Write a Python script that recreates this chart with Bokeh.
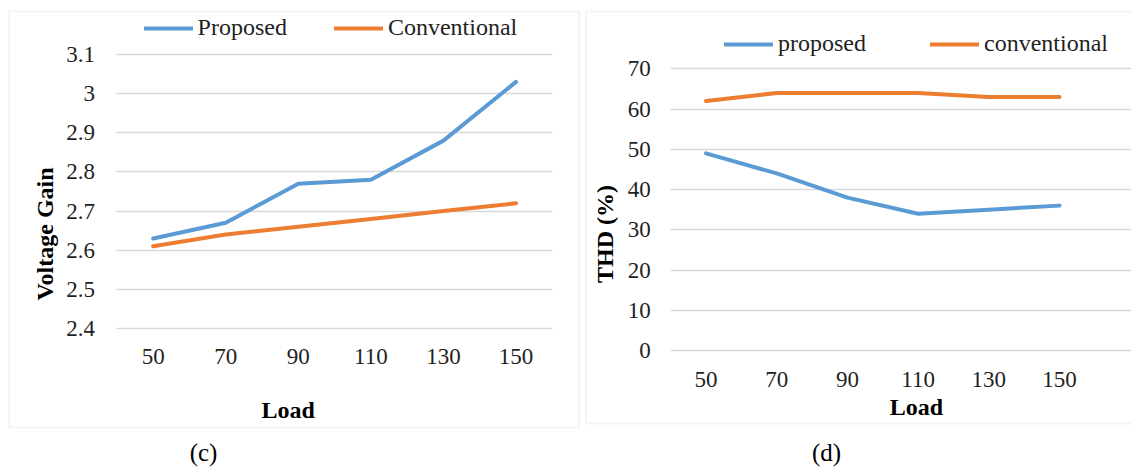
from bokeh.plotting import figure
from bokeh.layouts import row
from bokeh.models import (Legend, LegendItem, Label, BoxAnnotation, FixedTicker,
                          NumeralTickFormatter, Range1d)
from bokeh.embed import file_html
from bokeh.resources import INLINE

# ---- data ----
loads = [50, 70, 90, 110, 130, 150]
gain_proposed = [2.63, 2.67, 2.77, 2.78, 2.88, 3.03]
gain_conventional = [2.61, 2.64, 2.66, 2.68, 2.70, 2.72]
thd_proposed = [49, 44, 38, 34, 35, 36]
thd_conventional = [62, 64, 64, 64, 63, 63]
gain_ticks = [2.4, 2.5, 2.6, 2.7, 2.8, 2.9, 3.0, 3.1]
thd_ticks = [0, 10, 20, 30, 40, 50, 60, 70]

BLUE = "#5B9BD5"
ORANGE = "#ED7D31"
GRID = "#d9d9d9"
BOX = "#dadada"
FONT = "Liberation Serif"
TXT = "#1f1f1f"
H = 467


def make(width, xr, yr, ticks, ylabel, ylab_standoff, ytick_standoff, xtick_standoff,
         x_left, y_bottom, x_right):
    p = figure(width=width, height=H, output_backend="svg", toolbar_location=None,
               x_range=Range1d(*xr), y_range=Range1d(*yr),
               min_border=0, min_border_left=0, min_border_right=0,
               min_border_top=0, min_border_bottom=0)
    p.outline_line_color = None
    p.xgrid.visible = False
    p.ygrid.grid_line_color = GRID
    p.ygrid.grid_line_width = 1.5
    p.ygrid.ticker = FixedTicker(ticks=ticks)
    p.ygrid.cross_bounds = (x_left, x_right)
    p.xaxis.ticker = FixedTicker(ticks=loads)
    p.yaxis.ticker = FixedTicker(ticks=ticks)
    p.yaxis.fixed_location = x_left
    p.xaxis.fixed_location = y_bottom
    for ax in (p.xaxis[0], p.yaxis[0]):
        ax.axis_line_color = None
        ax.major_tick_line_color = None
        ax.minor_tick_line_color = None
        ax.major_tick_in = 0
        ax.major_tick_out = 0
        ax.minor_tick_in = 0
        ax.minor_tick_out = 0
        ax.major_label_text_font = FONT
        ax.major_label_text_font_size = "23px"
        ax.major_label_text_color = TXT
    p.xaxis.major_label_standoff = xtick_standoff
    p.yaxis.major_label_standoff = ytick_standoff
    p.yaxis.axis_label = ylabel
    p.yaxis.axis_label_text_font = FONT
    p.yaxis.axis_label_text_font_style = "bold"
    p.yaxis.axis_label_text_font_size = "24px"
    p.yaxis.axis_label_text_color = "#000000"
    p.yaxis.axis_label_standoff = ylab_standoff
    return p


def legend(p, items, vx, vy, spacing, standoff):
    lg = Legend(items=items, location=(vx, vy), orientation="horizontal",
                glyph_width=49, glyph_height=26, label_height=26,
                label_standoff=standoff, spacing=spacing, padding=0, margin=0,
                border_line_color=None, background_fill_alpha=0,
                label_text_font=FONT, label_text_font_size="24px",
                label_text_color=TXT)
    p.add_layout(lg, "center")


def box(p, l, r, t, b):
    p.add_layout(BoxAnnotation(left=l, right=r, top=t, bottom=b,
                               left_units="canvas", right_units="canvas",
                               top_units="canvas", bottom_units="canvas",
                               fill_alpha=0, line_color=BOX, line_width=2))


def label(p, x, y, text, bold, size):
    p.add_layout(Label(x=x, y=y, x_units="canvas", y_units="canvas", text=text,
                       text_font=FONT, text_font_style="bold" if bold else "normal",
                       text_font_size=size, text_align="center",
                       text_baseline="middle", text_color="#000000"))


# ---- left: voltage gain ----
p1 = make(581, (7.92, 168.05), (2.0449, 3.238), gain_ticks, "Voltage Gain",
          5, 22, 20, 40, 2.4, 160)
p1.yaxis.formatter = NumeralTickFormatter(format="0.[0]")
r1 = p1.line(loads, gain_proposed, line_color=BLUE, line_width=4,
             line_cap="round", line_join="round")
r2 = p1.line(loads, gain_conventional, line_color=ORANGE, line_width=4,
             line_cap="round", line_join="round")
legend(p1, [LegendItem(label="Proposed", renderers=[r1]),
            LegendItem(label="Conventional", renderers=[r2])], 143.6, 426, 47, 5)
box(p1, 8.7, 578.5, 11, 427)
label(p1, 287.7, 409, "Load", True, "24px")
label(p1, 203, 452, "(c)", False, "25px")

# ---- right: THD ----
p2 = make(550, (14.78, 170.37), (-29.07, 86.97), thd_ticks, "THD (%)",
          7, 20, 21, 40, 0, 170.37)
r3 = p2.line(loads, thd_proposed, line_color=BLUE, line_width=4,
             line_cap="round", line_join="round")
r4 = p2.line(loads, thd_conventional, line_color=ORANGE, line_width=4,
             line_cap="round", line_join="round")
legend(p2, [LegendItem(label="proposed", renderers=[r3]),
            LegendItem(label="conventional", renderers=[r4])], 143, 410, 64, 5)
box(p2, 4.6, 560, 11, 423)
label(p2, 335, 406.7, "Load", True, "24px")
label(p2, 245, 452, "(d)", False, "25px")

layout = row(p1, p2)
open("out.html", "w").write(file_html(layout, INLINE))
